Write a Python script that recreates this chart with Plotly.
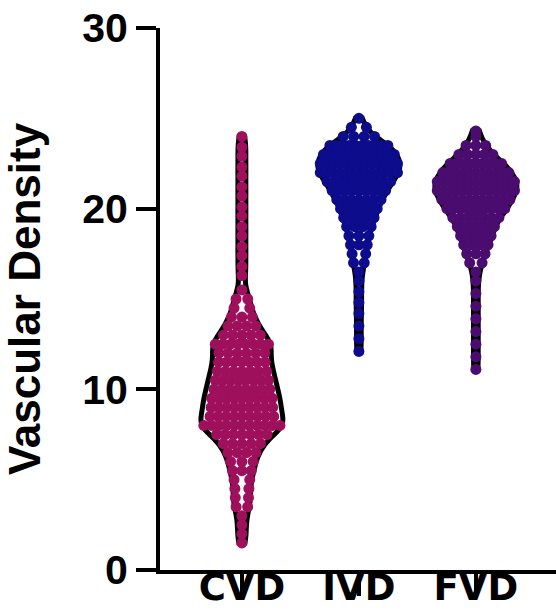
import numpy as np
import plotly.graph_objects as go

# ---- data: binned vascular density readings per group (value, number of samples) ----
categories = ["CVD", "IVD", "FVD"]

cvd_levels = [24.0, 23.4, 22.9, 22.3, 21.8, 21.2, 20.7, 20.1, 19.6, 19.0, 18.5, 17.9, 17.4, 16.8, 16.3,
              15.5, 15.0, 14.5, 14.0, 13.5, 13.0, 12.5, 12.0, 11.5, 11.0, 10.5, 10.0, 9.5, 9.0, 8.5,
              8.0, 7.5, 7.0, 6.5, 6.0, 5.5, 5.0, 4.5, 4.0, 3.5, 3.0, 2.5, 2.0, 1.5]
cvd_counts = [1, 1, 1, 1, 1, 1, 1, 1, 1, 1, 1, 1, 1, 1, 1,
              1, 2, 2, 3, 4, 5, 8, 6, 7, 7, 8, 8, 9, 9, 9,
              11, 7, 5, 4, 3, 3, 2, 2, 2, 2, 1, 1, 1, 1]

ivd_levels = [12.1, 12.8, 13.5, 14.2, 14.8, 15.4, 16.0, 16.5, 17.0, 17.5, 18.0, 18.5, 19.0, 19.5,
              20.0, 20.5, 21.0, 21.5, 22.0, 22.5, 23.0, 23.5, 24.0, 24.5, 25.0]
ivd_counts = [1, 1, 1, 1, 1, 1, 1, 1, 2, 2, 3, 3, 4, 5,
              6, 7, 9, 10, 13, 13, 12, 10, 4, 2, 1]

fvd_levels = [11.1, 11.8, 12.5, 13.2, 13.9, 14.6, 15.3, 16.0, 16.5, 17.0, 17.5, 18.0, 18.5, 19.0,
              19.5, 20.0, 20.5, 21.0, 21.5, 22.0, 22.5, 23.0, 23.5, 24.0, 24.3]
fvd_counts = [1, 1, 1, 1, 1, 1, 1, 1, 1, 2, 3, 4, 5, 6,
              7, 10, 11, 13, 13, 11, 9, 5, 3, 1, 1]

y_ticks = [0, 10, 20, 30]

# ---- styling ----
dot_colors = ["#9e0f5c", "#0c0c8c", "#4b0c6f"]
dot_sizes = [11, 11, 11]
bandwidths = [0.5, 0.45, 0.45]
spreads = [0.78, 0.93, 0.93]
pitches = [0.065, 0.055, 0.055]   # horizontal spacing of neighbouring dots (x units)
VIOLIN_WIDTH = 0.7
X_TICK_FONT = "DejaVu Sans, sans-serif"
Y_FONT = "Liberation Sans, Arial, sans-serif"

groups = [(cvd_levels, cvd_counts), (ivd_levels, ivd_counts), (fvd_levels, fvd_counts)]


def kde(grid, data, bw):
    u = (grid[:, None] - data[None, :]) / bw
    return np.exp(-0.5 * u * u).sum(axis=1) / (len(data) * bw * np.sqrt(2 * np.pi))


fig = go.Figure()

for i, (levels, counts) in enumerate(groups):
    lv = np.asarray(levels, dtype=float)
    ct = np.asarray(counts, dtype=int)
    values = np.repeat(lv, ct)

    # violin outline
    fig.add_trace(go.Violin(
        x0=i, y=values, name=categories[i], orientation="v",
        bandwidth=bandwidths[i], spanmode="hard",
        width=VIOLIN_WIDTH, scalemode="width",
        line=dict(color="black", width=5), fillcolor="white",
        points=False, box_visible=False, meanline_visible=False,
        hoverinfo="skip", showlegend=False,
    ))

    # dots arranged in rows that follow the violin's density
    grid = np.linspace(values.min(), values.max(), 600)
    dmax = kde(grid, values, bandwidths[i]).max()
    half_w = VIOLIN_WIDTH / 2 * kde(lv, values, bandwidths[i]) / dmax
    xs, ys = [], []
    for lvl, n, hw in zip(lv, ct, half_w):
        if n == 1:
            offs = np.array([0.0])
        else:
            half = max(spreads[i] * hw, (n - 1) * pitches[i] / 2)
            offs = np.linspace(-half, half, n)
        xs.extend(i + offs)
        ys.extend([lvl] * n)
    fig.add_trace(go.Scatter(
        x=xs, y=ys, mode="markers",
        marker=dict(size=dot_sizes[i], color=dot_colors[i], line=dict(width=0)),
        hoverinfo="skip", showlegend=False,
    ))

axis_common = dict(
    showline=True, linecolor="black", linewidth=4,
    ticks="outside", tickcolor="black", tickwidth=4,
    showgrid=False, zeroline=False, automargin=False,
)

fig.update_layout(
    width=556, height=611,
    margin=dict(l=160, r=0, t=28, b=41),
    paper_bgcolor="white", plot_bgcolor="white",
    violinmode="overlay",
    xaxis=dict(
        range=[-0.70, 2.685], tickvals=[0, 1, 2], ticktext=categories,
        ticklen=22, ticklabelstandoff=-40,
        tickfont=dict(family=X_TICK_FONT, size=37, color="black", weight="bold"),
        **axis_common,
    ),
    yaxis=dict(
        range=[0, 30], tickvals=y_ticks, ticklen=20,
        tickfont=dict(family=Y_FONT, size=41, color="black", weight="bold"),
        title=dict(text="Vascular Density", standoff=30,
                   font=dict(family=Y_FONT, size=44, color="black", weight="bold")),
        **axis_common,
    ),
)

fig.write_html("out.html")
